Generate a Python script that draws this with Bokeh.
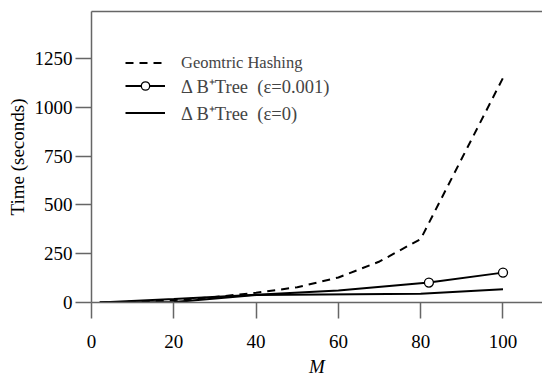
from bokeh.plotting import figure
from bokeh.models import Range1d, FixedTicker, LinearAxis, Legend, LegendItem
from bokeh.embed import file_html
from bokeh.resources import INLINE

# ---- data ----
m_hash = [2, 10, 20, 30, 40, 50, 60, 70, 80, 100]
t_hash = [0, 4, 12, 28, 50, 78, 128, 210, 325, 1150]

m_eps001 = [2, 20, 40, 60, 82, 100]
t_eps001 = [0, 18, 40, 62, 102, 153]
m_eps001_marks = [82, 100]
t_eps001_marks = [102, 153]

m_eps0 = [2, 20, 40, 80, 100]
t_eps0 = [0, 2, 38, 45, 68]

x_ticks = [0, 20, 40, 60, 80, 100]
y_ticks = [0, 250, 500, 750, 1000, 1250]

labels = ["Geomtric Hashing", "\u0394 B\u207aTree  (\u03b5=0.001)", "\u0394 B\u207aTree  (\u03b5=0)"]

FONT = "Liberation Serif"
AXIS_COLOR = "#666666"

p = figure(width=542, height=379, output_backend="svg", toolbar_location=None,
           x_range=Range1d(0, 109.6), y_range=Range1d(0, 1490),
           x_axis_label="M", y_axis_label="Time (seconds)",
           min_border_left=91, min_border_right=0, min_border_top=11, min_border_bottom=76)
p.outline_line_color = None
p.grid.visible = False
p.background_fill_color = "white"
p.border_fill_color = "white"

xa = p.xaxis[0]
ya = p.yaxis[0]
for ax in (xa, ya):
    ax.axis_line_color = AXIS_COLOR
    ax.axis_line_width = 1.5
    ax.major_tick_line_color = AXIS_COLOR
    ax.major_tick_line_width = 1.5
    ax.major_tick_in = 0
    ax.major_tick_out = 16
    ax.minor_tick_line_color = None
    ax.major_label_text_font = FONT
    ax.major_label_text_font_size = "19px"
    ax.major_label_text_color = "black"
    ax.axis_label_text_font = FONT
    ax.axis_label_text_font_size = "19px"
    ax.axis_label_text_color = "black"

xa.ticker = FixedTicker(ticks=x_ticks)
xa.major_label_standoff = 16
xa.axis_label_standoff = 5
xa.axis_label_text_font_style = "italic"

ya.ticker = FixedTicker(ticks=y_ticks)
ya.major_label_standoff = 3
ya.axis_label_standoff = 4
ya.axis_label_text_font_style = "normal"

# top frame line
top = LinearAxis(ticker=FixedTicker(ticks=[]), axis_line_color=AXIS_COLOR, axis_line_width=1.5,
                 major_tick_line_color=None, minor_tick_line_color=None)
p.add_layout(top, "above")

# series
r_hash = p.line(m_hash, t_hash, line_color="black", line_width=2, line_dash="8 6")
r_e1 = p.line(m_eps001, t_eps001, line_color="black", line_width=2)
r_e1m = p.scatter(m_eps001_marks, t_eps001_marks, marker="circle", size=9,
                  fill_color="white", line_color="black", line_width=1.3)
r_e0 = p.line(m_eps0, t_eps0, line_color="black", line_width=2)

common = dict(orientation="vertical", padding=0, margin=0,
              glyph_width=40, glyph_height=21, label_height=21, label_standoff=16,
              label_text_font=FONT, border_line_color=None, background_fill_alpha=0)

legend1 = Legend(items=[LegendItem(label=labels[0], renderers=[r_hash])],
                 location=(34, 229), spacing=2, label_text_font_size="16.5px", **common)
legend2 = Legend(items=[LegendItem(label=labels[1], renderers=[r_e1, r_e1m]),
                        LegendItem(label=labels[2], renderers=[r_e0])],
                 location=(34, 177), spacing=2, label_text_font_size="18.5px", **common)
p.add_layout(legend1, "center")
p.add_layout(legend2, "center")

open("out.html", "w").write(file_html(p, INLINE))
